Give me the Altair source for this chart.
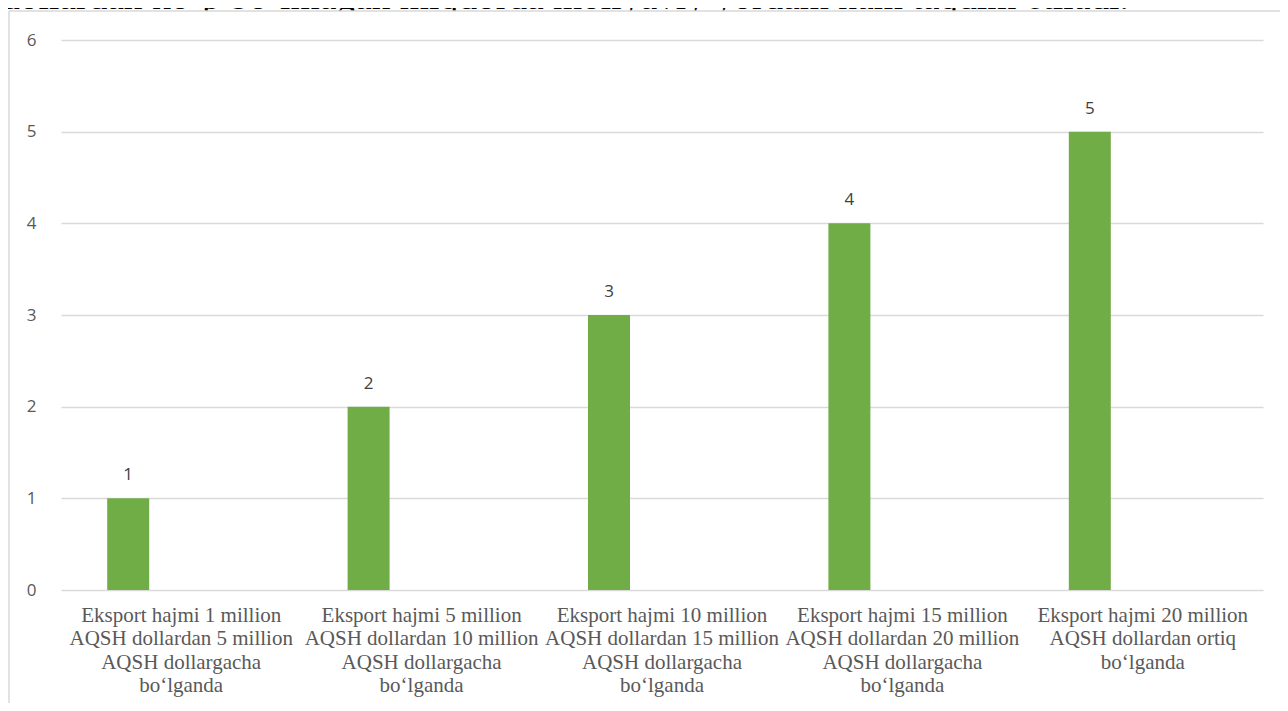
import altair as alt
import pandas as pd

# ---- data ----
label_lines = [
    ["Eksport hajmi 1 million", "AQSH dollardan 5 million", "AQSH dollargacha", "bo\u2018lganda"],
    ["Eksport hajmi 5 million", "AQSH dollardan 10 million", "AQSH dollargacha", "bo\u2018lganda"],
    ["Eksport hajmi 10 million", "AQSH dollardan 15 million", "AQSH dollargacha", "bo\u2018lganda"],
    ["Eksport hajmi 15 million", "AQSH dollardan 20 million", "AQSH dollargacha", "bo\u2018lganda"],
    ["Eksport hajmi 20 million", "AQSH dollardan ortiq", "bo\u2018lganda"],
]
values = [1, 2, 3, 4, 5]
y_ticks = [0, 1, 2, 3, 4, 5, 6]
top_sentence = "dollardan ko\u2018p bo\u2018lmagan miqdorda moliyaviy yordam ham taqdim etiladi."

categories = ["|".join(l) for l in label_lines]
df = pd.DataFrame({"cat": categories, "value": values})
note_df = pd.DataFrame({"t": [top_sentence]})

GREEN = "#70AD47"
GRID = "#D9D9D9"
PLOT_W = 1202
PLOT_H = 550

x_enc = alt.X(
    "cat:N",
    sort=None,
    scale=alt.Scale(paddingInner=0, paddingOuter=0),
    axis=alt.Axis(
        title=None,
        labelAngle=0,
        domain=False,
        ticks=False,
        labelFont="Liberation Serif",
        labelFontSize=21,
        labelColor="#595959",
        labelLineHeight=23.5,
        labelPadding=14,
        labelLimit=0,
        labelOverlap=False,
        labelExpr="split(datum.label, '|')",
    ),
)
y_enc = alt.Y(
    "value:Q",
    scale=alt.Scale(domain=[0, 6], nice=False),
    axis=alt.Axis(
        title=None,
        values=y_ticks,
        format="d",
        domain=False,
        ticks=False,
        grid=True,
        gridColor=GRID,
        gridWidth=1.3,
        labelFont="Open Sans",
        labelFontSize=17,
        labelColor="#595959",
        labelPadding=25,
    ),
)

sentence = alt.Chart(note_df).mark_text(
    align="left", baseline="alphabetic", font="Liberation Serif",
    fontSize=37.5, color="#000000",
).encode(x=alt.value(-60), y=alt.value(-31), text="t:N")

cover = alt.Chart(note_df).mark_rect(fill="white", strokeOpacity=0).encode(
    x=alt.value(-52), x2=alt.value(1240), y=alt.value(-29), y2=alt.value(-8)
)
top_border = alt.Chart(note_df).mark_rule(color=GRID, strokeWidth=1.5).encode(
    x=alt.value(-52), x2=alt.value(1240), y=alt.value(-29)
)
left_border = alt.Chart(note_df).mark_rule(color=GRID, strokeWidth=1.5).encode(
    x=alt.value(-52), y=alt.value(-29), y2=alt.value(720)
)

bars = alt.Chart(df).mark_bar(size=42, xOffset=-53, color=GREEN).encode(
    x=x_enc, y=y_enc
)
labels = alt.Chart(df).mark_text(
    xOffset=-53, dy=-18, baseline="alphabetic", font="Open Sans",
    fontSize=17, color="#404040",
).encode(x=alt.X("cat:N", sort=None), y=alt.Y("value:Q"), text="value:Q")

chart = alt.layer(sentence, cover, top_border, left_border, bars, labels).properties(
    width=PLOT_W,
    height=PLOT_H,
    autosize=alt.AutoSizeParams(type="none"),
    padding={"left": 53, "top": 32, "right": 17, "bottom": 113},
    background="white",
).configure_view(stroke=None)

chart.save("out.html", embed_options={"renderer": "svg", "actions": False})
